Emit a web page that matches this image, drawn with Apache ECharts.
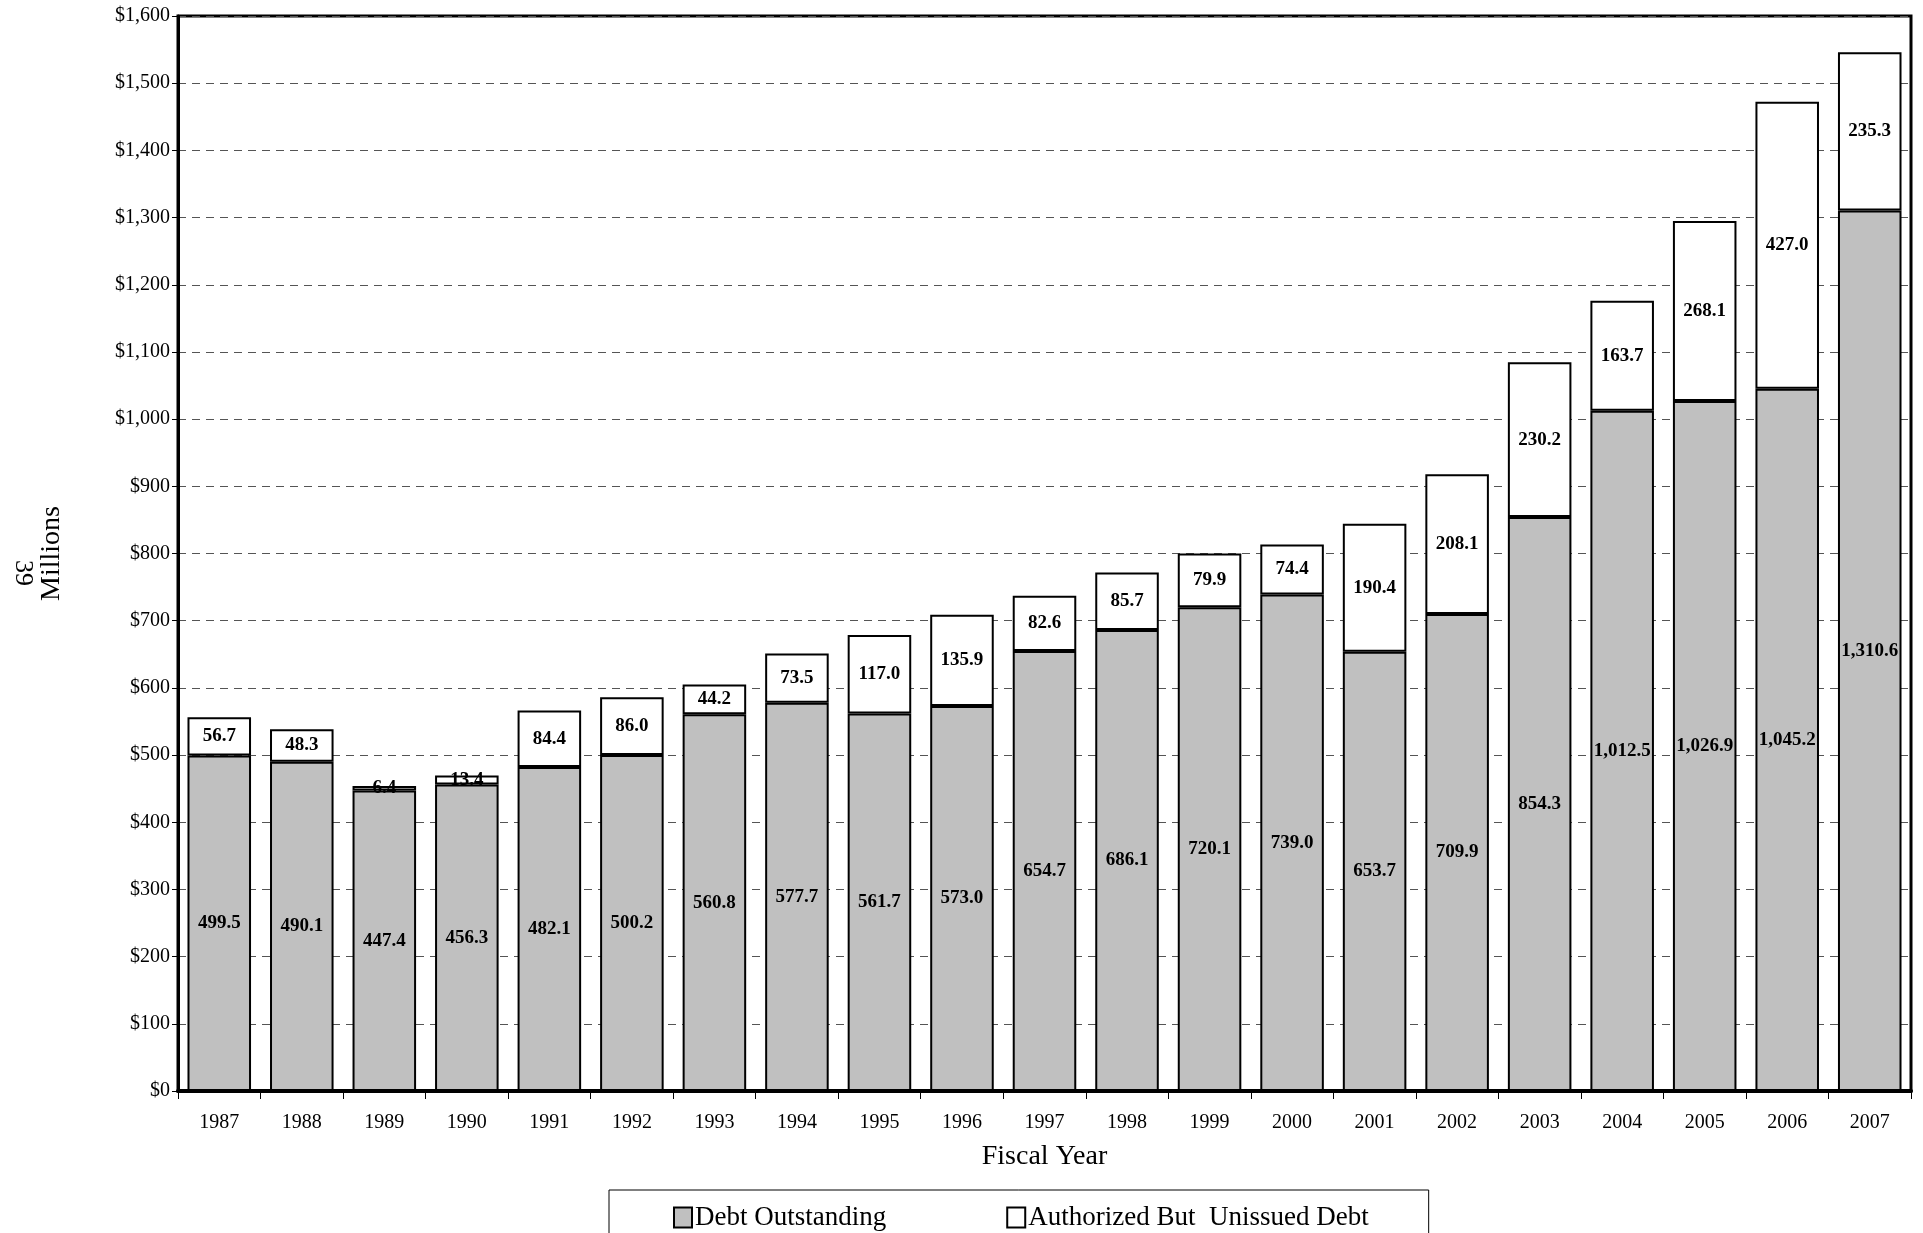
<!DOCTYPE html>
<html><head><meta charset="utf-8">
<script src="https://cdn.jsdelivr.net/npm/echarts@6/dist/echarts.min.js"></script>
<style>body{margin:0;background:#fff}#c{width:1923px;height:1233px}</style>
</head><body><div id="c"></div>
<script>
// 数据
const years = ['1987','1988','1989','1990','1991','1992','1993','1994','1995','1996','1997','1998','1999','2000','2001','2002','2003','2004','2005','2006','2007'];
const debtOutstanding = [499.5,490.1,447.4,456.3,482.1,500.2,560.8,577.7,561.7,573.0,654.7,686.1,720.1,739.0,653.7,709.9,854.3,1012.5,1026.9,1045.2,1310.6];
const authorizedUnissued = [56.7,48.3,6.4,13.4,84.4,86.0,44.2,73.5,117.0,135.9,82.6,85.7,79.9,74.4,190.4,208.1,230.2,163.7,268.1,427.0,235.3];

const font = '"Liberation Serif","Times New Roman",serif';
const fmt = v => v.toLocaleString('en-US',{minimumFractionDigits:1,maximumFractionDigits:1});

let myChart = echarts.init(document.getElementById('c'));
let option = {
  animation:false,
  textStyle:{fontFamily:font,color:'#000'},
  grid:{left:178,right:12,top:16,bottom:142,show:true,borderColor:'#000',borderWidth:3,backgroundColor:'#fff'},
  legend:{
    left:609,top:1190,padding:[14,60,20,64],itemGap:120,
    borderColor:'#000',borderWidth:1,itemWidth:18,itemHeight:20,icon:'rect',
    textStyle:{fontFamily:font,fontSize:27,color:'#000',padding:[0,0,0,-2]},
    data:['Debt Outstanding','Authorized But  Unissued Debt']
  },
  graphic:[
    {type:'text',left:10,top:560,rotation:-Math.PI/2,style:{text:'39',font:'26px '+font,fill:'#000'}}
  ],
  xAxis:{
    type:'category',data:years,
    name:'Fiscal Year',nameLocation:'middle',nameGap:52,
    nameTextStyle:{fontFamily:font,fontSize:28,color:'#000'},
    axisLine:{lineStyle:{color:'#000',width:4}},
    axisTick:{show:true,length:8,lineStyle:{color:'#000'}},
    axisLabel:{fontFamily:font,fontSize:20,color:'#000',margin:22}
  },
  yAxis:{
    type:'value',min:0,max:1600,interval:100,
    name:'Millions',nameLocation:'middle',nameGap:112,
    nameTextStyle:{fontFamily:font,fontSize:28,color:'#000'},
    axisLine:{show:true,lineStyle:{color:'#000',width:3}},
    axisTick:{show:true,length:6,lineStyle:{color:'#000'}},
    axisLabel:{fontFamily:font,fontSize:20,color:'#000',formatter:v=>'$'+v.toLocaleString('en-US')},
    splitLine:{lineStyle:{color:'#555',type:[8,6],width:1}}
  },
  series:[
    {name:'Debt Outstanding',type:'bar',stack:'d',data:debtOutstanding,barCategoryGap:'23%',
     itemStyle:{color:'#c0c0c0',borderColor:'#000',borderWidth:2},
     label:{show:true,position:'inside',formatter:p=>fmt(p.value),fontFamily:font,fontWeight:'bold',fontSize:19,color:'#000'}},
    {name:'Authorized But  Unissued Debt',type:'bar',stack:'d',data:authorizedUnissued,
     itemStyle:{color:'#fff',borderColor:'#000',borderWidth:2},
     label:{show:true,position:'inside',formatter:p=>fmt(p.value),fontFamily:font,fontWeight:'bold',fontSize:19,color:'#000'}}
  ]
};
myChart.setOption(option);
</script></body></html>
